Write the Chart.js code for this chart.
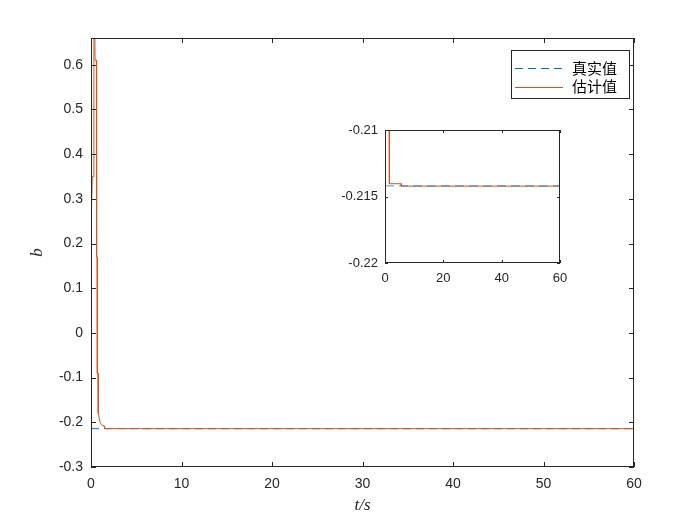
<!DOCTYPE html>
<html>
<head>
<meta charset="utf-8">
<script src="https://cdn.jsdelivr.net/npm/chart.js@4.4.1/dist/chart.umd.min.js"></script>
<style>
    body { margin: 0; background: #fff; }
    #wrap { position: relative; width: 700px; height: 525px; }
    #mainChart { position: absolute; left: 0; top: 0; }
    #insetChart { position: absolute; left: 320px; top: 115px; }
</style>
</head>
<body>
<div id="wrap">
    <canvas id="mainChart" width="700" height="525"></canvas>
    <canvas id="insetChart" width="250" height="175"></canvas>
</div>
<script>
// Datos
const tEst = [0, 0.15, 0.3, 0.32, 0.4, 0.45, 0.6, 0.62, 0.68, 0.7, 0.78, 0.8, 0.9, 1.0, 1.15, 1.3, 1.45, 1.5, 5.5, 5.6, 60];
const bEst = [0.24, 0.35, 0.35, 0.75, 0.75, 0.61, 0.61, 0.17, 0.17, -0.09, -0.09, -0.18, -0.19, -0.2, -0.205, -0.207, -0.208, -0.21404, -0.21404, -0.21422, -0.21422];
const tTrue = [0, 60];
const bTrue = [-0.2142, -0.2142];

const xTicks = [0, 10, 20, 30, 40, 50, 60];
const yTicks = [-0.3, -0.2, -0.1, 0, 0.1, 0.2, 0.3, 0.4, 0.5, 0.6];
const xTicksInset = [0, 20, 40, 60];
const yTicksInset = [-0.22, -0.215, -0.21];

const labelTrue = '真实值';
const labelEst = '估计值';
const xTitle = 't/s';
const yTitle = 'b';

const AXIS_COLOR = '#262626';
const BLUE = '#0072BD';
const ORANGE = '#D95319';

function toXY(xs, ys) {
    return xs.map((x, i) => ({ x: x, y: ys[i] }));
}

function fmt(v) {
    return String(parseFloat(v.toFixed(4)));
}

// Plugin: caja, ticks hacia dentro, leyenda y titulos estilo MATLAB
const matlabAxes = {
    id: 'matlabAxes',
    beforeDraw(chart) {
        const a = chart.chartArea;
        const ctx = chart.ctx;
        ctx.save();
        ctx.fillStyle = '#ffffff';
        ctx.fillRect(a.left, a.top, a.right - a.left, a.bottom - a.top);
        ctx.restore();
    },
    afterDraw(chart, args, opts) {
        const ctx = chart.ctx;
        const a = chart.chartArea;
        const x = chart.scales.x;
        const y = chart.scales.y;
        const L = opts.tickLength;
        ctx.save();
        ctx.strokeStyle = AXIS_COLOR;
        ctx.lineWidth = 1;
        ctx.strokeRect(a.left + 0.5, a.top + 0.5, a.right - a.left - 1, a.bottom - a.top - 1);
        ctx.beginPath();
        x.ticks.forEach(t => {
            const px = Math.round(x.getPixelForValue(t.value)) + 0.5;
            ctx.moveTo(px, a.bottom);
            ctx.lineTo(px, a.bottom - L);
            ctx.moveTo(px, a.top);
            ctx.lineTo(px, a.top + L);
        });
        y.ticks.forEach(t => {
            const py = Math.round(y.getPixelForValue(t.value)) + 0.5;
            ctx.moveTo(a.left, py);
            ctx.lineTo(a.left + L, py);
            ctx.moveTo(a.right, py);
            ctx.lineTo(a.right - L, py);
        });
        ctx.stroke();

        if (opts.legend) {
            const lx = 511, ly = 50, lw = 118, lh = 48;
            ctx.fillStyle = '#ffffff';
            ctx.fillRect(lx, ly, lw, lh);
            ctx.strokeRect(lx + 0.5, ly + 0.5, lw, lh);
            const rows = [68, 86.5];
            chart.data.datasets.forEach((ds, i) => {
                ctx.beginPath();
                ctx.strokeStyle = ds.borderColor;
                ctx.lineWidth = 1;
                ctx.setLineDash(ds.borderDash || []);
                ctx.moveTo(515, Math.round(rows[i]) + 0.5);
                ctx.lineTo(563, Math.round(rows[i]) + 0.5);
                ctx.stroke();
                ctx.setLineDash([]);
                ctx.fillStyle = '#000000';
                ctx.font = '15px "Noto Sans CJK SC"';
                ctx.textBaseline = 'middle';
                ctx.textAlign = 'left';
                ctx.fillText(ds.label, 572, rows[i]);
            });
        }

        if (opts.titles) {
            ctx.fillStyle = AXIS_COLOR;
            ctx.font = 'italic 17px "Liberation Serif"';
            ctx.textAlign = 'center';
            ctx.textBaseline = 'middle';
            ctx.fillText(xTitle, (a.left + a.right) / 2, 506);
            ctx.translate(38, (a.top + a.bottom) / 2);
            ctx.rotate(-Math.PI / 2);
            ctx.fillText(yTitle, 0, 0);
        }
        ctx.restore();
    }
};

function fixX(h) {
    return s => { s.height = h; s.paddingLeft = 0; s.paddingRight = 0; };
}

// Grafica principal
new Chart(document.getElementById('mainChart').getContext('2d'), {
    type: 'line',
    data: {
        datasets: [
            {
                label: labelTrue,
                data: toXY(tTrue, bTrue),
                borderColor: BLUE,
                borderWidth: 1,
                borderDash: [8, 5],
                pointRadius: 0,
                clip: 0,
                order: 2
            },
            {
                label: labelEst,
                data: toXY(tEst, bEst),
                borderColor: ORANGE,
                borderWidth: 1,
                pointRadius: 0,
                clip: 0,
                order: 1
            }
        ]
    },
    options: {
        responsive: false,
        animation: false,
        layout: { padding: { left: 0, top: 38, right: 66, bottom: 0 } },
        plugins: {
            legend: { display: false },
            tooltip: { enabled: false },
            matlabAxes: { tickLength: 5, legend: true, titles: true }
        },
        scales: {
            x: {
                type: 'linear',
                min: 0,
                max: 60,
                afterFit: fixX(58),
                afterBuildTicks: s => { s.ticks = xTicks.map(v => ({ value: v })); },
                grid: { display: false, drawTicks: false },
                border: { display: false },
                ticks: {
                    padding: 9,
                    maxRotation: 0,
                    color: AXIS_COLOR,
                    font: { family: '"Liberation Sans", Arial', size: 14 },
                    callback: v => fmt(v)
                }
            },
            y: {
                type: 'linear',
                min: -0.3,
                max: 0.66,
                afterFit: s => { s.width = 91; },
                afterBuildTicks: s => { s.ticks = yTicks.map(v => ({ value: v })); },
                grid: { display: false, drawTicks: false },
                border: { display: false },
                ticks: {
                    padding: 8,
                    color: AXIS_COLOR,
                    font: { family: '"Liberation Sans", Arial', size: 14 },
                    callback: v => fmt(v)
                }
            }
        }
    },
    plugins: [matlabAxes]
});

// Grafica ampliada (inset)
new Chart(document.getElementById('insetChart').getContext('2d'), {
    type: 'line',
    data: {
        datasets: [
            {
                label: labelTrue,
                data: toXY(tTrue, bTrue),
                borderColor: 'rgba(0, 114, 189, 0.7)',
                borderWidth: 1,
                borderDash: [9, 5],
                pointRadius: 0,
                clip: 0,
                order: 1
            },
            {
                label: labelEst,
                data: toXY(tEst, bEst),
                borderColor: ORANGE,
                borderWidth: 1,
                pointRadius: 0,
                clip: 0,
                order: 2
            }
        ]
    },
    options: {
        responsive: false,
        animation: false,
        layout: { padding: { left: 0, top: 15, right: 10, bottom: 0 } },
        plugins: {
            legend: { display: false },
            tooltip: { enabled: false },
            matlabAxes: { tickLength: 3, legend: false, titles: false }
        },
        scales: {
            x: {
                type: 'linear',
                min: 0,
                max: 60,
                afterFit: fixX(27),
                afterBuildTicks: s => { s.ticks = xTicksInset.map(v => ({ value: v })); },
                grid: { display: false, drawTicks: false },
                border: { display: false },
                ticks: {
                    padding: 8,
                    maxRotation: 0,
                    color: AXIS_COLOR,
                    font: { family: '"Liberation Sans", Arial', size: 13 },
                    callback: v => fmt(v)
                }
            },
            y: {
                type: 'linear',
                min: -0.22,
                max: -0.21,
                afterFit: s => { s.width = 65; },
                afterBuildTicks: s => { s.ticks = yTicksInset.map(v => ({ value: v })); },
                grid: { display: false, drawTicks: false },
                border: { display: false },
                ticks: {
                    padding: 7,
                    color: AXIS_COLOR,
                    font: { family: '"Liberation Sans", Arial', size: 13 },
                    callback: v => fmt(v)
                }
            }
        }
    },
    plugins: [matlabAxes]
});
</script>
</body>
</html>
